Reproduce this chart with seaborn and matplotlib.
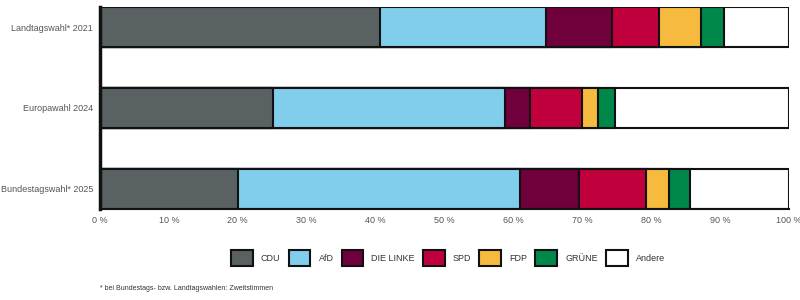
import numpy as np
import pandas as pd
import matplotlib.pyplot as plt
import seaborn as sns
from matplotlib.patches import Patch

# ------- data -------
elections = ["Landtagswahl* 2021", "Europawahl 2024", "Bundestagswahl* 2025"]
parties = ["CDU", "AfD", "DIE LINKE", "SPD", "FDP", "GRÜNE", "Andere"]
colors = ["#5a6163", "#80cdec", "#6f003c", "#c0003d", "#f6bb3e", "#00884a", "#ffffff"]
cdu = [40.6, 25.1, 20.1]
afd = [24.2, 33.7, 40.9]
linke = [9.6, 3.6, 8.6]
spd = [6.7, 7.6, 9.7]
fdp = [6.2, 2.3, 3.3]
gruene = [3.3, 2.5, 3.1]
andere = [9.4, 25.2, 14.3]
# -------------------------------------------


def main():
    df = pd.DataFrame(
        np.array([cdu, afd, linke, spd, fdp, gruene, andere]).T,
        index=elections, columns=parties)
    cum = df.cumsum(axis=1)

    sns.set_theme(style="white")
    plt.rcParams["font.family"] = ["Liberation Sans", "DejaVu Sans"]

    fig = plt.figure(figsize=(8, 3), dpi=100)
    ax = fig.add_axes([0.125, 0.303, 0.861, 0.674])

    # stacked bars: draw cumulative totals from the last party backwards
    for party, col in reversed(list(zip(parties, colors))):
        sns.barplot(x=cum[party].values, y=elections, orient="h", color=col,
                    edgecolor="#111111", linewidth=1.5, width=0.5, ax=ax,
                    saturation=1)

    ax.set_xlim(0, 100)
    ax.set_ylim(2.25, -0.25)
    ax.set_xticks(np.arange(0, 101, 10))
    ax.set_xticklabels([f"{t} %" for t in range(0, 101, 10)])
    ax.tick_params(axis="x", colors="#555555", labelsize=6.5, length=3,
                   width=1, direction="out", pad=2)
    ax.tick_params(axis="x", color="#111111")
    ax.tick_params(axis="y", colors="#555555", labelsize=6.5, length=0, pad=5)
    ax.set_xlabel("")
    ax.set_ylabel("")

    for s in ["top", "right"]:
        ax.spines[s].set_visible(False)
    ax.spines["left"].set_linewidth(2.5)
    ax.spines["left"].set_color("#111111")
    ax.spines["bottom"].set_linewidth(1.5)
    ax.spines["bottom"].set_color("#111111")

    handles = [Patch(facecolor=c, edgecolor="#111111", linewidth=1.5)
               for c in colors]
    fig.legend(handles, parties, loc="center", bbox_to_anchor=(0.56, 0.14),
               ncol=len(parties), frameon=False, fontsize=6.5,
               handlelength=2.4, handleheight=2.5, handletextpad=0.9,
               columnspacing=0.9, labelcolor="#333333")

    fig.text(0.125, 0.04, "* bei Bundestags- bzw. Landtagswahlen: Zweitstimmen",
             fontsize=5, color="#333333", va="center", ha="left")

    fig.savefig("out.png", dpi=100)


if __name__ == "__main__":
    main()
